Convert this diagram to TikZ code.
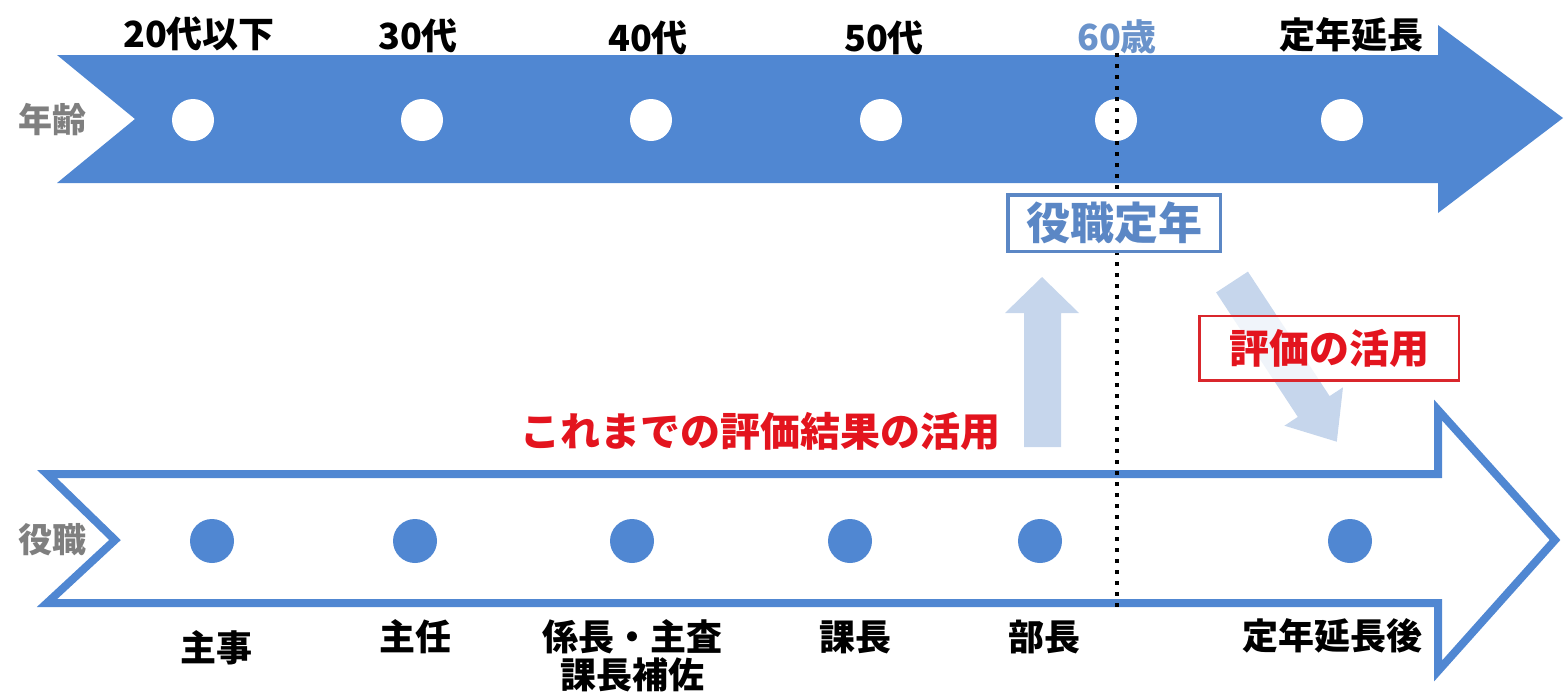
\documentclass[tikz,border=0pt]{standalone}
\usepackage{fontspec}
\setmainfont{Noto Sans CJK JP}
\definecolor{arrowblue}{HTML}{5087D2}
\definecolor{lightblue}{HTML}{C6D6EC}
\definecolor{boxblue}{HTML}{5B87C5}
\definecolor{agecol}{HTML}{6A93CB}
\definecolor{labelgray}{HTML}{7F7F7F}
\definecolor{redtext}{HTML}{E3141E}
\definecolor{redbox}{HTML}{D9262C}
\begin{document}
\begin{tikzpicture}[x=1pt,y=-1pt,
  lbl/.style={font=\fontsize{36}{40}\selectfont\bfseries, text=black, inner sep=0pt},
  side/.style={font=\fontsize{34}{38}\selectfont\bfseries, text=labelgray, inner sep=0pt},
  wdot/.style={circle, fill=white, minimum size=42pt, inner sep=0pt},
  bdot/.style={circle, fill=arrowblue, minimum size=44pt, inner sep=0pt},
  dotline/.style={line width=3.5pt, dash pattern=on 4pt off 7pt, black},
  lightarrow/.style={fill=lightblue},
]
\useasboundingbox (0,0) rectangle (1565,694);

% top (age) arrow
\fill[arrowblue] (57,55) -- (1438,55) -- (1438,25) -- (1563,118) -- (1438,213) -- (1438,183) -- (57,183) -- (135,119) -- cycle;

% bottom (position) arrow
\draw[arrowblue, line width=8pt, line join=miter] (47,474) -- (1438,474) -- (1438,410) -- (1555,540) -- (1438,671) -- (1438,603) -- (47,603) -- (115,540) -- cycle;

% side labels
\node[side] (nenrei) at (52,120) {年齢};
\node[side] (yaku) at (52,540) {役職};

% top labels
\node[lbl] (t1) at (199,34) {20代以下};
\node[lbl] (t2) at (418,36) {30代};
\node[lbl] (t3) at (648,38) {40代};
\node[lbl] (t4) at (884,38) {50代};
\node[lbl, text=agecol] (t5) at (1117,37) {60歳};
\node[lbl] (t6) at (1351,35) {定年延長};

% white dots
\node[wdot] (a1) at (193,120) {};
\node[wdot] (a2) at (422,120) {};
\node[wdot] (a3) at (651,120) {};
\node[wdot] (a4) at (881,120) {};
\node[wdot] (a5) at (1116,120) {};
\node[wdot] (a6) at (1342,120) {};

% blue dots
\node[bdot] (b1) at (212,541) {};
\node[bdot] (b2) at (415,541) {};
\node[bdot] (b3) at (632,541) {};
\node[bdot] (b4) at (850,541) {};
\node[bdot] (b5) at (1040,541) {};
\node[bdot] (b6) at (1350,541) {};

% bottom labels
\node[lbl] (p1) at (216,648) {主事};
\node[lbl] (p2) at (415,637) {主任};
\node[lbl] (p3) at (632,637) {係長・主査};
\node[lbl] (p3b) at (632,675) {課長補佐};
\node[lbl] (p4) at (855,637) {課長};
\node[lbl] (p5) at (1044,637) {部長};
\node[lbl] (p6) at (1332,636) {定年延長後};

% dotted line at 60
\coordinate (dtop) at (1117,53);
\coordinate (dbot) at (1117,612);
\draw[dotline] (dtop) -- (dbot);

% light up arrow
\fill[lightarrow] (1024,447) -- (1024,313) -- (1005,313) -- (1042,277) -- (1079,313) -- (1061,313) -- (1061,447) -- cycle;

% light diagonal arrow
\fill[lightarrow] (1216.1,292.4) -- (1297.8,416.9) -- (1284.4,425.7) -- (1336.8,441.7) -- (1343.0,387.3) -- (1329.6,396.1) -- (1247.9,271.6) -- cycle;

% boxes
\node[draw=boxblue, line width=3.5pt, fill=white, minimum width=212.5pt, minimum height=56.5pt, inner sep=0pt,
      text=boxblue, font=\fontsize{44}{48}\selectfont\bfseries] (teinen) at (1114,223) {役職定年};
\node[draw=redbox, line width=2.5pt, fill=white, fill opacity=0.75, text opacity=1, minimum width=259.5pt, minimum height=64.5pt, inner sep=0pt,
      text=redtext, font=\fontsize{40}{44}\selectfont\bfseries] (hyoka) at (1329,348) {評価の活用};

% red caption
\node[inner sep=0pt, text=redtext, font=\fontsize{40}{44}\selectfont\bfseries] (kore) at (760,431) {これまでの評価結果の活用};
\end{tikzpicture}
\end{document}
